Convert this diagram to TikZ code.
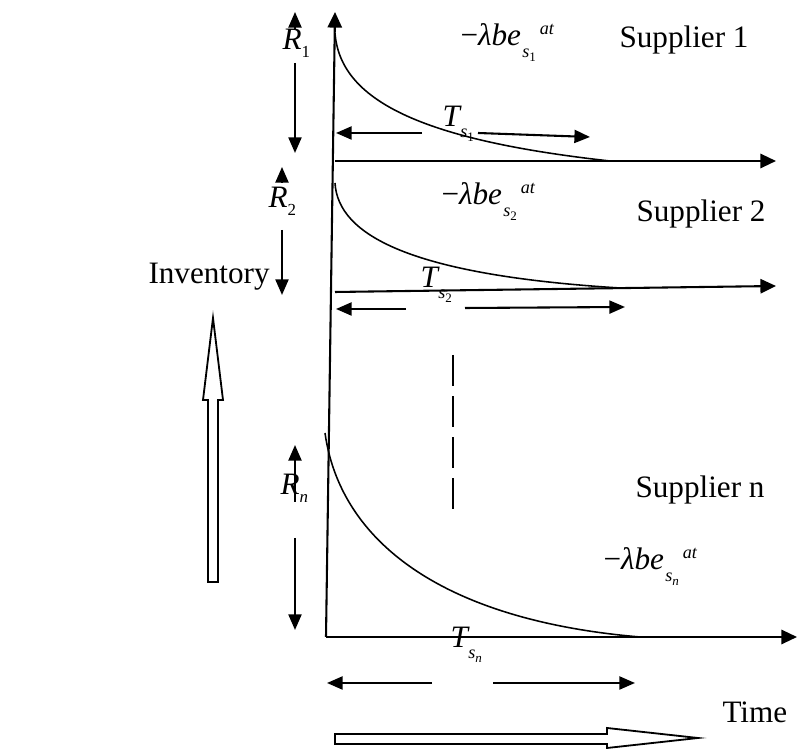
\documentclass[tikz,border=0pt]{standalone}
\usepackage{fontspec}
\setmainfont{Liberation Serif}
\usetikzlibrary{arrows.meta,positioning}

\newcommand{\decay}[1]{−\textit{λbe}\hspace{0.5pt}\raisebox{-4.5pt}{\scriptsize\textit{s}\raisebox{-1.3pt}{\tiny #1}}\hspace{1.5pt}\raisebox{4.5pt}{\scriptsize\textit{at}}}
\newcommand{\period}[1]{\textit{T}\hspace{-0.5pt}\raisebox{-4.2pt}{\scriptsize\textit{s}\raisebox{-1.3pt}{\tiny #1}}}
\newcommand{\reorder}[1]{\textit{R}\raisebox{-2.7pt}{\fontsize{6.5}{7}\selectfont #1}}

\begin{document}
\begin{tikzpicture}[x=0.385pt,y=-0.385pt,
  every node/.style={inner sep=0pt,anchor=base west,font=\fontsize{12}{14}\selectfont},
  axis/.style={line width=0.8pt,-{Triangle[length=6pt,width=5.5pt]}},
  curve/.style={line width=0.6pt},
  span/.style={line width=0.8pt,-{Triangle[length=6pt,width=5pt]}},
  hollow/.style={draw,line width=0.7pt,fill=white,line join=miter}]
\useasboundingbox (0,0) rectangle (798,749);
% axes
\coordinate (o) at (326,637);
\coordinate (top) at (335,12);
\coordinate (a1) at (335,161);
\coordinate (e1) at (776,161);
\coordinate (a2) at (335,292);
\coordinate (e2) at (776,286);
\coordinate (en) at (797,637);
\draw[axis] (o) -- (top);
\draw[axis] (a1) -- (e1);
\draw[axis] (a2) -- (e2);
\draw[axis] (o) -- (en);
% decay curves
\draw[curve] (335,33) .. controls (340,100) and (420,140) .. (610,161);
\draw[curve] (335,183) .. controls (338,235) and (410,275) .. (620,288);
\draw[curve] (325,433) .. controls (340,540) and (440,620) .. (640,637);
% reorder levels
\draw[span] (295,30) -- (295,12);
\draw[span] (295,63) -- (295,153);
\draw[span] (282,183) -- (282,167);
\draw[span] (282,230) -- (282,295);
\draw[span] (295,502) -- (295,445);
\draw[span] (295,538) -- (295,630);
% cycle lengths
\draw[span] (422,133) -- (336,133);
\draw[span] (478,133) -- (590,137);
\draw[span] (406,309) -- (336,309);
\draw[span] (465,308) -- (625,307);
\draw[span] (432,683) -- (327,683);
\draw[span] (493,683) -- (635,683);
\draw[line width=0.6pt,dash pattern=on 12pt off 3.8pt] (453,355) -- (453,509);
% hollow arrows
\draw[hollow] (208,582) -- (208,400) -- (203,400) -- (213,318) -- (223,400) -- (218,400) -- (218,582) -- cycle;
\draw[hollow] (335,734) -- (607,734) -- (607,728) -- (698,738) -- (607,748) -- (607,744) -- (335,744) -- cycle;
% labels
\node (sup1) at (619,48) {Supplier 1};
\node (sup2) at (636,222) {Supplier 2};
\node (supn) at (635,498) {Supplier n};
\node (f1) at (460,46) {\decay{1}};
\node (f2) at (441,205) {\decay{2}};
\node (fn) at (603,570) {\decay{\textit{n}}};
\node (t1) at (442,127) {\period{1}};
\node (t2) at (420,288) {\period{2}};
\node (tn) at (450,648) {\period{\textit{n}}};
\node (r1) at (282,50) {\reorder{1}};
\node (r2) at (268,208) {\reorder{2}};
\node (rn) at (280,495) {\reorder{\textit{n}}};
\node (inv) at (148,284) {Inventory};
\node (time) at (722,723) {Time};
\end{tikzpicture}
\end{document}
